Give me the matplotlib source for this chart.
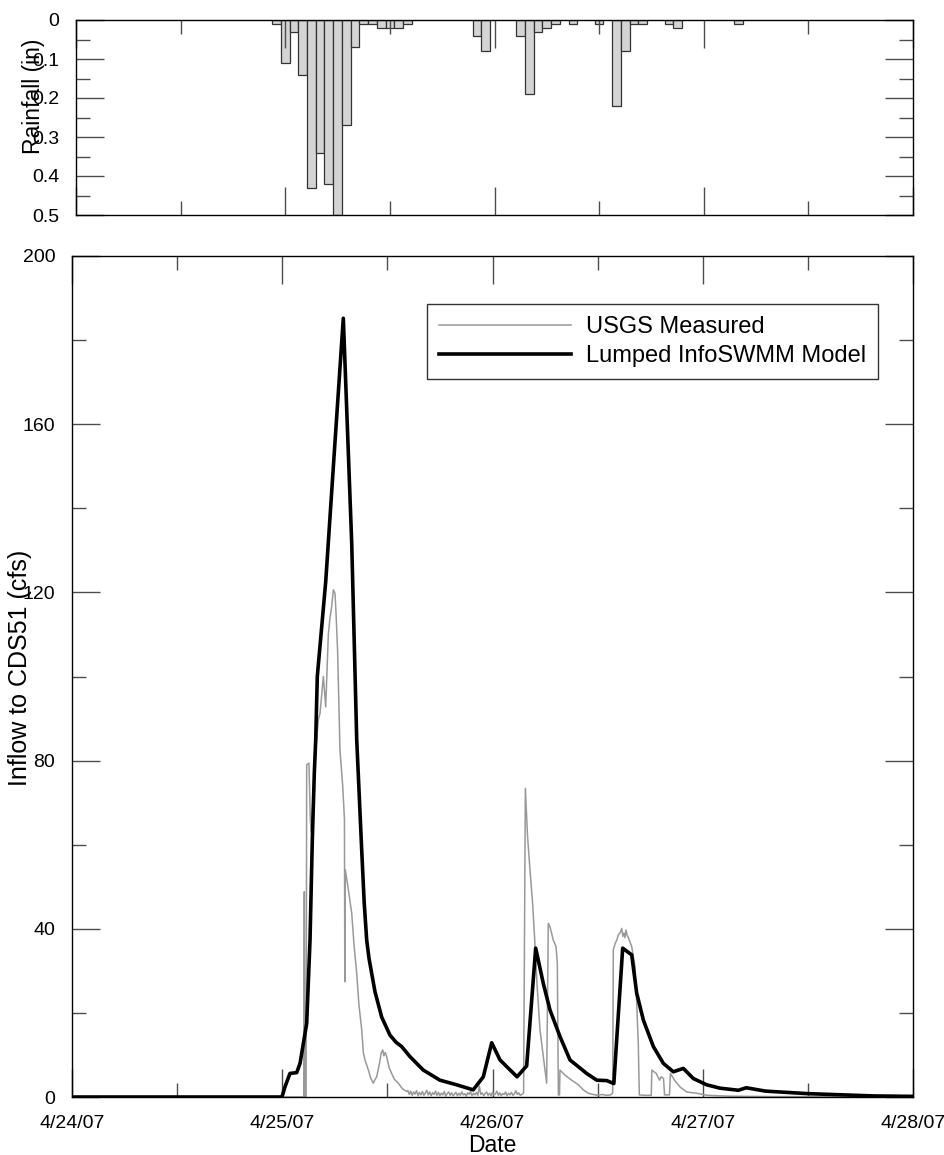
import numpy as np
import pandas as pd
import matplotlib
matplotlib.use("Agg")
import matplotlib.pyplot as plt
import matplotlib.dates as mdates
from matplotlib.ticker import MultipleLocator

plt.rcParams['font.family'] = ['Liberation Sans', 'DejaVu Sans']

# ---------------- data (hours since 4/24/07 00:00) ----------------
start = pd.Timestamp('2007-04-24')

# hourly rainfall (in)
rain_hr = [23, 24, 25, 26, 27, 28, 29, 30, 31, 32, 33, 34, 35, 36, 37, 38,
           46, 47, 51, 52, 53, 54, 55, 57, 60, 62, 63, 64, 65, 68, 69, 76]
rain_in = [0.01, 0.11, 0.03, 0.14, 0.43, 0.34, 0.42, 0.50, 0.27, 0.07, 0.01, 0.01,
           0.02, 0.02, 0.02, 0.01, 0.04, 0.08, 0.04, 0.19, 0.03, 0.02, 0.01, 0.01,
           0.01, 0.22, 0.08, 0.01, 0.01, 0.01, 0.02, 0.01]

# Lumped InfoSWMM model (cfs)
model_hr = [0, 23.97, 24.31, 24.88, 25.65, 26.03, 26.79, 27.17, 27.43, 27.66, 27.82,
            28.0, 28.96, 29.91, 30.97, 31.93, 32.5, 33.07, 33.36, 33.64, 33.9, 34.2,
            34.59, 35.35, 36.3, 37.0, 37.63, 38.58, 40.1, 42.0, 43.91, 45.8, 46.95,
            47.91, 48.86, 50.8, 51.9, 52.93, 53.8, 54.56, 55.7, 56.85, 57.8, 58.75,
            59.9, 61.04, 61.85, 62.86, 63.89, 64.46, 65.22, 66.36, 67.5, 68.64,
            69.78, 70.92, 72.45, 73.97, 76.07, 76.96, 79.16, 83.98, 91.55, 96]
model_q = [0, 0, 2.4, 5.6, 5.8, 8, 17.5, 37.3, 61, 77, 85,
           100, 122.5, 152.3, 185.2, 131.7, 85, 58.7, 46, 37.3, 33.0, 29.5,
           25.0, 19.0, 14.7, 13.0, 12.0, 9.6, 6.4, 4.0, 2.9, 1.7, 4.8,
           12.9, 8.8, 4.8, 7.4, 35.4, 27.0, 20.7, 14.4, 8.8, 7.2, 5.6,
           4.0, 3.9, 3.2, 35.4, 33.8, 24.7, 18.3, 12.0, 8.0, 6.0,
           6.8, 4.4, 2.9, 2.1, 1.6, 2.2, 1.4, 0.8, 0.25, 0.15]

# USGS measured (cfs) - first storm
meas1_hr = [0, 26.45, 26.52, 26.58, 26.72, 26.79, 27.05, 27.2, 27.3, 27.55, 27.85,
            28.12, 28.31, 28.69, 28.96, 29.26, 29.45, 29.64, 29.83, 30.02, 30.14,
            30.32, 30.59, 30.9, 31.1, 31.14, 31.2, 31.5, 31.93, 32.2, 32.5, 32.75,
            33.07, 33.26, 33.45, 33.83, 34.1, 34.39, 34.6, 34.78, 35.1, 35.3, 35.47,
            35.6, 35.75, 35.92, 36.2, 36.49, 36.8, 37.25, 37.7, 38.2]
meas1_q = [0, 0, 48.8, 0, 0, 79, 79.4, 66, 63, 72, 83,
           89.7, 91.2, 100, 92.8, 110, 114, 116.6, 120.6, 119.8, 115,
           106, 82.5, 74, 66, 27.4, 54, 50, 43.7, 36, 29.4, 22,
           16, 10.5, 8.8, 6.4, 4.5, 3.3, 4.2, 4.8, 8, 10.5, 11.2,
           9.8, 10.6, 9.6, 7, 5.6, 4.2, 3.3, 2.0, 1.3]

# low-flow readings between storms, every 10 minutes from 38.33 h
base_q = [1.6, 0.6, 1.4, 0.4, 1.2, 0.7, 1.5, 0.3, 1.1, 0.5, 1.3, 0.4, 0.9, 1.6, 0.5,
          1.2, 0.3, 1.0, 0.6, 1.4, 0.4, 1.1, 0.3, 0.9, 0.5, 1.3, 0.2, 0.8, 1.2, 0.4,
          1.0, 0.3, 0.7, 1.1, 0.3, 0.9, 0.4, 1.2, 0.5, 0.8, 0.2, 1.0, 0.6, 1.3, 0.3,
          0.9, 0.5, 1.1, 0.4, 2.6, 0.6, 1.0, 0.3, 0.8, 1.2, 0.4, 0.9, 0.3, 1.1, 0.5,
          0.7, 1.4, 0.4, 1.0, 0.3, 0.8, 0.6, 1.2, 0.3, 0.9, 0.5, 1.1, 0.4, 0.7, 1.5,
          0.6, 1.0, 0.4]

# USGS measured (cfs) - second and third storms
meas2_hr = [51.5, 51.55, 51.75, 52.0, 52.28, 52.58, 52.84, 53.1, 53.42, 53.99,
            54.18, 54.37, 54.56, 54.94, 55.25, 55.4, 55.52, 55.65, 55.7, 56.27,
            57.03, 57.8, 58.36, 58.93, 59.5, 60.0, 60.5, 61.0, 61.5, 61.72,
            61.79, 62.0, 62.18, 62.35, 62.55, 62.75, 62.88, 63.01, 63.12, 63.24,
            63.38, 63.5, 63.7, 63.89, 64.27, 64.46, 64.64, 64.76, 65.4, 66.12,
            66.19, 66.69, 67.07, 67.26, 67.52, 67.64, 68.2, 68.31, 68.77, 69.4,
            70.16, 71.3, 72.5, 75.0, 80.0, 96.0]
meas2_q = [0.8, 1.0, 73.4, 62, 54, 46, 36.6, 26.2, 16, 6.4,
           3.3, 41.3, 40.5, 37.3, 35.8, 31.8, 0.5, 0.5, 6.4, 5.2,
           4.0, 2.9, 1.7, 0.9, 0.6, 0.4, 0.6, 0.4, 0.5, 1.0,
           35, 36.5, 37.3, 38.5, 39, 40.1, 38.2, 39, 37.9, 39.7,
           38.4, 38, 36.8, 35.8, 31, 22.3, 12.8, 0.5, 0.4, 0.4,
           6.4, 5.6, 4.0, 4.8, 4.4, 0.5, 0.5, 5.6, 4.0, 2.4,
           1.2, 0.9, 0.4, 0.2, 0.1, 0.1]

# ---------------- assemble ----------------
def to_time(hours):
    return start + pd.to_timedelta(np.asarray(hours, dtype=float), unit='h')

base_hr = 38.33 + np.arange(len(base_q)) / 6.0
meas_hr = np.concatenate([meas1_hr, base_hr, meas2_hr])
meas_q = np.concatenate([meas1_q, base_q, meas2_q])

rain_t = to_time(rain_hr)
model_t = to_time(model_hr)
meas_t = to_time(meas_hr)

# ---------------- figure ----------------
W, H = 945, 1155
fig = plt.figure(figsize=(W / 100, H / 100), dpi=100)
ax1 = fig.add_axes([76 / W, 1 - 215 / H, 837 / W, 195 / H])
ax2 = fig.add_axes([72 / W, 1 - 1097 / H, 841 / W, 841 / H])

tick_font = 14
label_font = 16.5


def style_axis(ax):
    for sp in ax.spines.values():
        sp.set_color('black')
        sp.set_linewidth(1.0)
    ax.tick_params(which='both', direction='in', top=True, right=True,
                   color='0.3', width=1.0, labelsize=tick_font, pad=12)
    ax.tick_params(which='major', length=20)
    ax.tick_params(which='minor', length=10)
    ax.set_xlim(start, start + pd.Timedelta(days=4))
    ax.xaxis.set_major_locator(mdates.DayLocator())
    ax.xaxis.set_minor_locator(mdates.HourLocator(byhour=[12]))
    ax.xaxis.set_major_formatter(mdates.DateFormatter('%-m/%d/%y'))


# rainfall panel
style_axis(ax1)
ax1.bar(rain_t, rain_in, width=1 / 24, align='center',
        facecolor='#d4d4d4', edgecolor='#333333', linewidth=0.9)
ax1.set_ylim(0.5, 0)
ax1.yaxis.set_major_locator(MultipleLocator(0.1))
ax1.yaxis.set_minor_locator(MultipleLocator(0.05))
ax1.yaxis.set_major_formatter(plt.FuncFormatter(lambda v, p: '0' if v == 0 else f'{v:g}'))
ax1.tick_params(axis='x', labelbottom=False)
ax1.set_ylabel('Rainfall (in)', fontsize=label_font)
ax1.yaxis.set_label_coords(-0.037, 0.61)

# flow panel
style_axis(ax2)
ax2.plot(meas_t, meas_q, color='#999999', linewidth=1.1, label='USGS Measured')
ax2.plot(model_t, model_q, color='black', linewidth=2.6, label='Lumped InfoSWMM Model')
ax2.set_ylim(0, 200)
ax2.yaxis.set_major_locator(MultipleLocator(40))
ax2.yaxis.set_minor_locator(MultipleLocator(20))
ax2.tick_params(axis='x', pad=13)
ax2.set_xlabel('Date', fontsize=label_font)
ax2.xaxis.set_label_coords(0.5, -0.044)
ax2.set_ylabel('Inflow to CDS51 (cfs)', fontsize=18)
ax2.yaxis.set_label_coords(-0.048, 0.51)

leg = ax2.legend(loc='upper left', bbox_to_anchor=(427 / W, 1 - 304 / H),
                 bbox_transform=fig.transFigure, fontsize=17,
                 frameon=True, fancybox=False, handlelength=5.6,
                 handletextpad=0.65, labelspacing=0.3, borderpad=0.5,
                 borderaxespad=0)
leg.get_frame().set_edgecolor('black')
leg.get_frame().set_linewidth(1.0)

plt.savefig('out.png', dpi=100)
